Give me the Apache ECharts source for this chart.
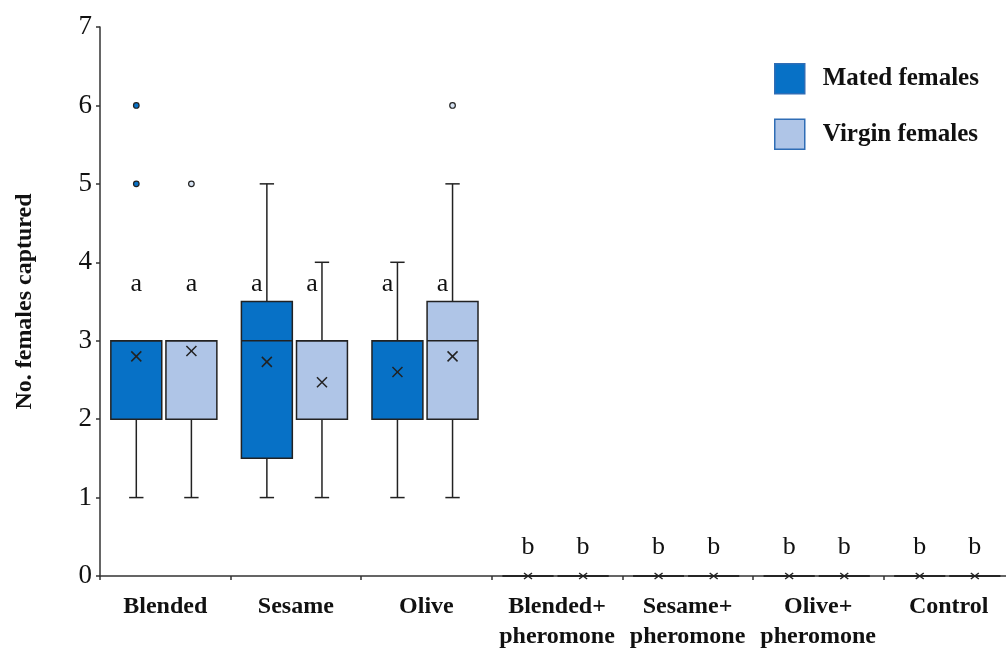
<!DOCTYPE html>
<html lang="en">
<head>
    <meta charset="UTF-8">
    <title>Females captured</title>
    <script src="https://cdn.jsdelivr.net/npm/echarts@6/dist/echarts.min.js"></script>
    <style>
        html, body { margin: 0; padding: 0; background: #fff; }
    </style>
</head>
<body>

<div id="app" style="width: 1006px;height: 650px"></div>

<script>
    var categories = ['Blended', 'Sesame', 'Olive', 'Blended+\npheromone', 'Sesame+\npheromone', 'Olive+\npheromone', 'Control'];
    var yTicks = [0, 1, 2, 3, 4, 5, 6, 7];

    // [min, q1, median, q3, max]
    var matedBox = [[1, 2, 3, 3, 3], [1, 1.5, 3, 3.5, 5], [1, 2, 3, 3, 4], [0, 0, 0, 0, 0], [0, 0, 0, 0, 0], [0, 0, 0, 0, 0], [0, 0, 0, 0, 0]];
    var virginBox = [[1, 2, 3, 3, 3], [1, 2, 3, 3, 4], [1, 2, 3, 3.5, 5], [0, 0, 0, 0, 0], [0, 0, 0, 0, 0], [0, 0, 0, 0, 0], [0, 0, 0, 0, 0]];
    var matedMean = [2.8, 2.73, 2.6, 0, 0, 0, 0];
    var virginMean = [2.87, 2.47, 2.8, 0, 0, 0, 0];
    var matedOutliers = [[0, 5], [0, 6]];
    var virginOutliers = [[0, 5], [2, 6]];
    var matedLetters = ['a', 'a', 'a', 'b', 'b', 'b', 'b'];
    var virginLetters = ['a', 'a', 'a', 'b', 'b', 'b', 'b'];

    var MATED = '#0771c6';
    var VIRGIN = '#afc5e7';
    var SERIF = '"Liberation Serif", "Times New Roman", serif';

    function rows(box, mean) {
        return box.map(function (b, i) { return [i].concat(b, [mean[i]]); });
    }

    function renderBox(offset, color, letters) {
        return function (params, api) {
            var cat = api.value(0);
            var band = api.size([1, 0])[0];
            var cx = api.coord([cat, 0])[0] + offset * band;
            var half = band * 0.195;
            var cap = band * 0.055;
            var y = function (v) { return api.coord([cat, v])[1]; };
            var lo = api.value(1), q1 = api.value(2), med = api.value(3), q3 = api.value(4), hi = api.value(5), mean = api.value(6);
            var ln = { stroke: '#222', lineWidth: 1.5 };
            var kids = [];
            if (hi > q3) {
                kids.push({ type: 'line', shape: { x1: cx, y1: y(q3), x2: cx, y2: y(hi) }, style: ln });
                kids.push({ type: 'line', shape: { x1: cx - cap, y1: y(hi), x2: cx + cap, y2: y(hi) }, style: ln });
            }
            if (lo < q1) {
                kids.push({ type: 'line', shape: { x1: cx, y1: y(q1), x2: cx, y2: y(lo) }, style: ln });
                kids.push({ type: 'line', shape: { x1: cx - cap, y1: y(lo), x2: cx + cap, y2: y(lo) }, style: ln });
            }
            kids.push({
                type: 'rect',
                shape: { x: cx - half, y: y(q3), width: half * 2, height: y(q1) - y(q3) },
                style: { fill: color, stroke: '#222', lineWidth: 1.5 }
            });
            kids.push({ type: 'line', shape: { x1: cx - half, y1: y(med), x2: cx + half, y2: y(med) }, style: ln });
            // mean marker (x)
            var my = y(mean), s = mean > 0 ? 5 : 4, sy = mean > 0 ? 5 : 3;
            kids.push({ type: 'line', shape: { x1: cx - s, y1: my - sy, x2: cx + s, y2: my + sy }, style: ln });
            kids.push({ type: 'line', shape: { x1: cx - s, y1: my + sy, x2: cx + s, y2: my - sy }, style: ln });
            var letter = letters[params.dataIndex];
            kids.push({
                type: 'text',
                x: cx - (hi > 3.6 ? 10 : 0),
                y: y(letter === 'a' ? 3.72 : 0.37),
                style: { text: letter, font: '26px ' + SERIF, fill: '#111', align: 'center', verticalAlign: 'middle' }
            });
            return { type: 'group', children: kids };
        };
    }

    var myChart = echarts.init(document.getElementById('app'));

    var option = {
        animation: false,
        grid: { left: 100, width: 914, top: 27, bottom: 74, containLabel: false, outerBoundsMode: 'none' },
        legend: {
            left: 769,
            top: 58,
            orient: 'vertical',
            itemWidth: 30,
            itemHeight: 30,
            itemGap: 24,
            icon: 'rect',
            data: ['Mated females', 'Virgin females'],
            itemStyle: { borderColor: '#2f6db5', borderWidth: 1.5 },
            textStyle: { fontFamily: SERIF, fontWeight: 'bold', fontSize: 25, color: '#111', padding: [0, 0, 0, 13] }
        },
        xAxis: {
            type: 'category',
            data: categories,
            axisLine: { lineStyle: { color: '#333', width: 1.5 } },
            axisTick: { show: true, length: 4, lineStyle: { color: '#333', width: 1.5 } },
            axisLabel: { fontFamily: SERIF, fontWeight: 'bold', fontSize: 24, color: '#111', lineHeight: 30, margin: 16, interval: 0 }
        },
        yAxis: {
            type: 'value',
            min: 0,
            max: 7,
            interval: 1,
            name: 'No. females captured',
            nameLocation: 'middle',
            nameGap: 63,
            nameTextStyle: { fontFamily: SERIF, fontWeight: 'bold', fontSize: 24, color: '#111' },
            splitLine: { show: false },
            axisLine: { show: true, lineStyle: { color: '#333', width: 1.5 } },
            axisTick: { show: true, length: 4, lineStyle: { color: '#333', width: 1.5 } },
            axisLabel: {
                fontFamily: SERIF, fontSize: 27, color: '#111', margin: 8,
                formatter: function (v) { return yTicks.indexOf(v) >= 0 ? String(v) : ''; }
            }
        },
        series: [
            {
                name: 'Mated females',
                type: 'custom',
                itemStyle: { color: MATED },
                renderItem: renderBox(-0.222, MATED, matedLetters),
                encode: { x: 0, y: [1, 2, 3, 4, 5, 6] },
                data: rows(matedBox, matedMean),
                z: 2
            },
            {
                name: 'Virgin females',
                type: 'custom',
                itemStyle: { color: VIRGIN },
                renderItem: renderBox(0.2, VIRGIN, virginLetters),
                encode: { x: 0, y: [1, 2, 3, 4, 5, 6] },
                data: rows(virginBox, virginMean),
                z: 2
            },
            {
                name: 'Mated females',
                type: 'custom',
                renderItem: function (params, api) {
                    var band = api.size([1, 0])[0];
                    var p = api.coord([api.value(0), api.value(1)]);
                    return { type: 'circle', shape: { cx: p[0] - 0.222 * band, cy: p[1], r: 2.8 }, style: { fill: MATED, stroke: '#222', lineWidth: 1.2 } };
                },
                data: matedOutliers,
                z: 3
            },
            {
                name: 'Virgin females',
                type: 'custom',
                renderItem: function (params, api) {
                    var band = api.size([1, 0])[0];
                    var p = api.coord([api.value(0), api.value(1)]);
                    return { type: 'circle', shape: { cx: p[0] + 0.2 * band, cy: p[1], r: 2.8 }, style: { fill: '#d8e4f4', stroke: '#222', lineWidth: 1.2 } };
                },
                data: virginOutliers,
                z: 3
            }
        ]
    };

    myChart.setOption(option);
</script>

</body>
</html>
